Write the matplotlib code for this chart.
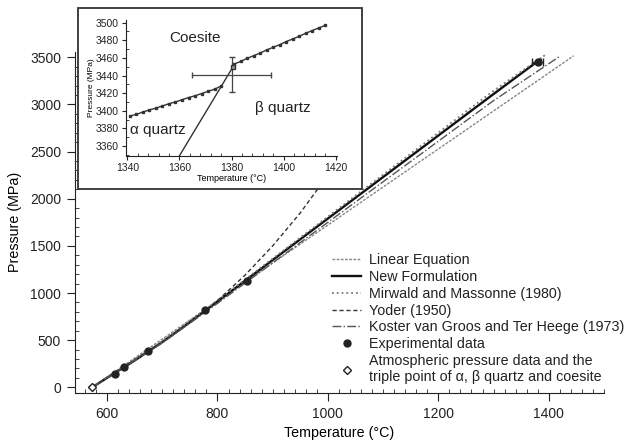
import matplotlib.pyplot as plt
from matplotlib.patches import Rectangle
from matplotlib.ticker import MultipleLocator

plt.rcParams['font.family'] = ['Liberation Sans', 'DejaVu Sans']
plt.rcParams['text.color'] = '#222222'
plt.rcParams['axes.edgecolor'] = '#222222'
plt.rcParams['xtick.color'] = '#222222'
plt.rcParams['ytick.color'] = '#222222'

# --- main plot data ---
exp_T = [615, 630, 675, 777, 853, 1380]
exp_P = [145, 216, 381, 823, 1123, 3450]
atm_T = [573]
atm_P = [0]

new_T = [573, 600, 650, 700, 750, 800, 850, 900, 950, 1000, 1100, 1200, 1300, 1385]
new_P = [0, 100, 285, 480, 690, 910, 1130, 1350, 1570, 1790, 2230, 2670, 3110, 3480]

lin_T = [573, 1445]
lin_P = [0, 3515]

mirwald_T = [573, 700, 800, 900, 1000, 1100, 1200, 1300, 1395]
mirwald_P = [0, 490, 920, 1365, 1810, 2255, 2700, 3145, 3530]

koster_T = [573, 700, 800, 900, 1000, 1100, 1200, 1300, 1420]
koster_P = [0, 470, 890, 1320, 1750, 2180, 2610, 3040, 3510]

yoder_T = [573, 650, 700, 750, 800, 850, 900, 950, 1000, 1030]
yoder_P = [0, 290, 480, 690, 920, 1190, 1500, 1850, 2250, 2520]

# --- inset data ---
aq_coe_T = [1341, 1343.5, 1346, 1348.5, 1351, 1353.5, 1356, 1358.5, 1361, 1363.5,
            1366, 1368.5, 1371, 1373.5, 1376]
aq_coe_P = [3394, 3396, 3398.5, 3401, 3403, 3405.5, 3408, 3410, 3412.5, 3415,
            3417, 3419.5, 3422, 3424.5, 3428]
bq_coe_T = [1381, 1383.5, 1386, 1388.5, 1391, 1393.5, 1396, 1398.5, 1401, 1403.5,
            1406, 1408.5, 1411, 1413.5, 1416]
bq_coe_P = [3453, 3456, 3459.5, 3462.5, 3465.5, 3469, 3472, 3475, 3478.5, 3481.5,
            3484.5, 3488, 3491, 3494, 3497]
ab_T = [1358, 1380]
ab_P = [3339, 3447]
triple_T = 1380
triple_P = 3441
triple_Terr = 15
triple_Perr = 20

fig = plt.figure(figsize=(6.34, 4.40), dpi=100)
ax = fig.add_axes([0.1183, 0.1068, 0.8344, 0.776])

ax.plot(lin_T, lin_P, color='#888888', lw=1.0, dashes=(2, 1), label='Linear Equation')
ax.plot(new_T, new_P, color='#111111', lw=1.7, label='New Formulation')
ax.plot(mirwald_T, mirwald_P, color='#777777', lw=1.3, ls=':', label='Mirwald and Massonne (1980)')
ax.plot(yoder_T, yoder_P, color='#333333', lw=1.0, dashes=(3, 2), label='Yoder (1950)')
ax.plot(koster_T, koster_P, color='#555555', lw=1.0, ls='-.', label='Koster van Groos and Ter Heege (1973)')
ax.errorbar(exp_T[-1:], exp_P[-1:], xerr=10, fmt='none', ecolor='#222222', lw=1, capsize=3)
ax.plot(exp_T, exp_P, 'o', color='#222222', ms=5, ls='none', label='Experimental data')
ax.plot(atm_T, atm_P, 'D', mfc='white', mec='#222222', ms=4, mew=1, ls='none',
        label='Atmospheric pressure data and the\ntriple point of \u03b1, \u03b2 quartz and coesite')

ax.set_xlim(542, 1500)
ax.set_ylim(-60, 3560)
ax.set_xticks([600, 800, 1000, 1200, 1400])
ax.set_yticks([0, 500, 1000, 1500, 2000, 2500, 3000, 3500])
ax.xaxis.set_minor_locator(MultipleLocator(20))
ax.yaxis.set_minor_locator(MultipleLocator(100))
ax.tick_params(which='major', direction='out', length=6, labelsize=10, pad=4)
ax.tick_params(which='minor', direction='in', length=3)
for s in ['top', 'right']:
    ax.spines[s].set_visible(False)
ax.set_xlabel('Temperature (\u00b0C)', fontsize=10.3)
ax.set_ylabel('Pressure (MPa)', fontsize=10.3, labelpad=6)

ax.legend(loc='upper left', bbox_to_anchor=(0.515, 0.438), bbox_transform=fig.transFigure,
          frameon=False, fontsize=10.3, handlelength=2.0, handletextpad=0.6,
          labelspacing=0.2, borderaxespad=0)

# inset box
fig.patches.append(Rectangle((78 / 634, 1 - 189 / 440), 284 / 634, 181 / 440,
                             transform=fig.transFigure, facecolor='white',
                             edgecolor='#333333', lw=1.3, zorder=2))

ins = fig.add_axes([126 / 634, 1 - 155.7 / 440, 211 / 634, 135.7 / 440], zorder=3)
ins.patch.set_alpha(0)
ins.plot(aq_coe_T, aq_coe_P, '-s', color='#333333', lw=1.0, ms=1.6)
ins.plot(bq_coe_T, bq_coe_P, '-s', color='#333333', lw=1.0, ms=1.6)
ins.plot(ab_T, ab_P, color='#333333', lw=1.0)
ins.errorbar([triple_T], [triple_P], xerr=triple_Terr, yerr=triple_Perr, fmt='none',
             ecolor='#444444', lw=0.9, capsize=2)
ins.plot([1380.5], [3450], 's', mfc='#999999', mec='#333333', ms=3.5)

ins.set_xlim(1339.5, 1420.5)
ins.set_ylim(3349, 3503)
ins.set_xticks([1340, 1360, 1380, 1400, 1420])
ins.set_yticks([3360, 3380, 3400, 3420, 3440, 3460, 3480, 3500])
ins.xaxis.set_minor_locator(MultipleLocator(4))
ins.yaxis.set_minor_locator(MultipleLocator(10))
ins.tick_params(which='major', direction='out', length=3, labelsize=7.5, pad=2)
ins.tick_params(which='minor', direction='in', length=2)
for s in ['top', 'right']:
    ins.spines[s].set_visible(False)
ins.set_xlabel('Temperature (\u00b0C)', fontsize=6.5, labelpad=1)
ins.set_ylabel('Pressure (MPa)', fontsize=6, labelpad=1)

ins.text(1356, 3483, 'Coesite', fontsize=11, va='center')
ins.text(1389, 3403, '\u03b2 quartz', fontsize=11, va='center')
ins.text(1341, 3378, '\u03b1 quartz', fontsize=11, va='center')

fig.savefig('out.png', dpi=100)
